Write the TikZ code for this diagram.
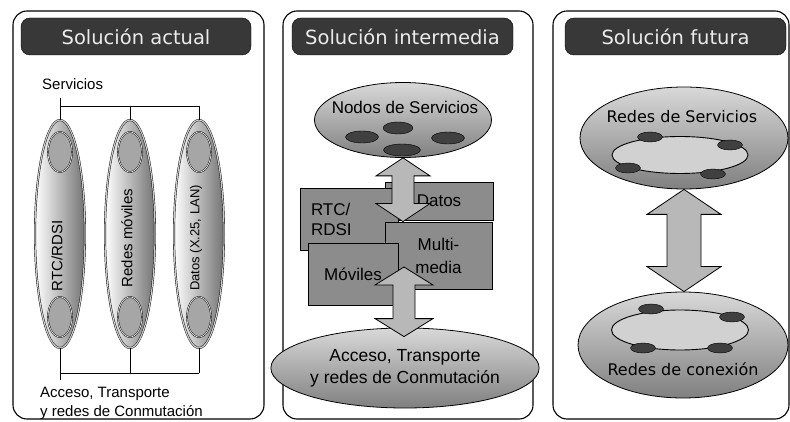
\documentclass[tikz,border=0pt]{standalone}
\usepackage{fontspec}
\setmainfont{Liberation Sans}
\newfontfamily\titlefont{DejaVu Sans}
\usepackage{tikz}
\usetikzlibrary{shapes.geometric, calc}
\tikzset{
  panelbox/.style={draw, line width=1.1pt, rounded corners=14pt},
  titlebar/.style={rectangle, draw, fill=black!78, rounded corners=9pt, text=white!92!black, minimum height=37pt, inner sep=0pt, font=\titlefont\fontsize{19.5}{22}\selectfont},
  pillar/.style={ellipse, draw, double=black!20, double distance=1.2pt, left color=white, right color=black!55, minimum width=50pt, minimum height=228pt, inner sep=0pt},
  pod/.style={ellipse, draw, double=black!15, double distance=0.8pt, fill=black!35, minimum width=24pt, minimum height=40pt, inner sep=0pt},
  vlabel/.style={rotate=90, inner sep=0pt},
  netbox/.style={rectangle, draw, line width=0.8pt, fill=black!45, inner sep=0pt, font=\fontsize{17}{20}\selectfont},
  cloud/.style={ellipse, draw, line width=0.8pt, top color=black!15, bottom color=black!50, inner sep=0pt},
  ring/.style={ellipse, draw, line width=0.9pt, fill=black!18, inner sep=0pt},
  blob/.style={ellipse, draw, fill=black!75, minimum width=32pt, minimum height=12pt, inner sep=0pt},
  blockarr/.style={draw, line width=0.8pt, fill=black!28},
  bus/.style={line width=0.9pt},
}
% #1 top end, #2 bottom end, #3 half shaft, #4 half head, #5 head length
\newcommand{\dblarrow}[5]{%
  \draw[blockarr] let \p1=(#1), \p2=(#2) in
    (\x1,\y1) -- (\x1+#4pt,\y1-#5pt) -- (\x1+#3pt,\y1-#5pt) -- (\x1+#3pt,\y2+#5pt)
    -- (\x1+#4pt,\y2+#5pt) -- (\x1,\y2) -- (\x1-#4pt,\y2+#5pt) -- (\x1-#3pt,\y2+#5pt)
    -- (\x1-#3pt,\y1-#5pt) -- (\x1-#4pt,\y1-#5pt) -- cycle;}

\begin{document}
\begin{tikzpicture}[x=1pt, y=-1pt]
  \useasboundingbox (0,0) rectangle (790,422);

  % Solucion actual
  \draw[panelbox] (13,11) rectangle (264,419);
  \node[titlebar, minimum width=230pt] (t1) at (136,36.5) {Solución actual};
  \node[anchor=west, inner sep=0pt, font=\fontsize{15}{18}\selectfont] (svc) at (42,84) {Servicios};

  \node[pillar] (rtc) at (60,234) {};
  \node[pillar] (mov) at (130,234) {};
  \node[pillar] (dat) at (199,234) {};
  \node[pod] (rtcA) at (60,152) {};
  \node[pod] (rtcB) at (60,317) {};
  \node[pod] (movA) at (130,152) {};
  \node[pod] (movB) at (130,317) {};
  \node[pod] (datA) at (199,152) {};
  \node[pod] (datB) at (199,317) {};
  \node[vlabel, font=\fontsize{15}{18}\selectfont] (rtcl) at (57,256) {RTC/RDSI};
  \node[vlabel, font=\fontsize{15}{18}\selectfont] (movl) at (127,238) {Redes móviles};
  \node[vlabel, font=\fontsize{13}{16}\selectfont] (datl) at (196,238) {Datos (X.25, LAN)};

  \coordinate (topbus) at (0,106);
  \coordinate (botbus) at (0,373);
  \coordinate (svcend) at (60,98);
  \coordinate (accend) at (60,380);
  \draw[bus] (svcend) -- (rtc.north);
  \draw[bus] (rtc.north |- topbus) -- (dat.north |- topbus);
  \draw[bus] (mov.north) -- (mov.north |- topbus);
  \draw[bus] (dat.north) -- (dat.north |- topbus);
  \draw[bus] (rtc.south) -- (accend);
  \draw[bus] (rtc.south |- botbus) -- (dat.south |- botbus);
  \draw[bus] (mov.south) -- (mov.south |- botbus);
  \draw[bus] (dat.south) -- (dat.south |- botbus);
  \node[anchor=west, align=left, inner sep=0pt, font=\fontsize{15}{19}\selectfont] (acc1) at (40,403) {Acceso, Transporte\\y redes de Conmutación};

  % Solucion intermedia
  \draw[panelbox] (283,11) rectangle (533,419);
  \node[titlebar, minimum width=221pt] (t2) at (402.5,36.5) {Solución intermedia};
  \node[cloud, minimum width=177pt, minimum height=75pt] (nodos) at (403,120) {};
  \node[font=\fontsize{17}{20}\selectfont, inner sep=0pt] (nodosl) at (405,107) {Nodos de Servicios};
  \node[blob, minimum width=30pt] (nb1) at (398,128) {};
  \node[blob, minimum width=33pt] (nb2) at (362,137) {};
  \node[blob, minimum width=33pt] (nb3) at (448,138) {};
  \node[blob, minimum width=37pt] (nb4) at (402,150) {};

  \node[netbox, minimum width=108pt, minimum height=38pt] (datos) at (439,201) {Datos};
  \node[netbox, minimum width=98pt, minimum height=62pt, text width=76pt, align=left] (rtc2) at (349,219) {RTC/\\RDSI};
  \node[netbox, minimum width=107pt, minimum height=67pt, align=center, font=\fontsize{17}{23}\selectfont] (multi) at (438.5,255.5) {Multi-\\media};
  \node[netbox, minimum width=90pt, minimum height=62pt] (moviles) at (353,274) {Móviles};

  \node[cloud, minimum width=210pt, minimum height=80pt, align=center, font=\fontsize{17.5}{22}\selectfont] (acceso) at (405,368) {Acceso, Transporte\\y redes de Conmutación};

  \coordinate (a2top) at (404,267);
  \dblarrow{nodos.south}{nodos.south |- multi.north}{11}{27}{18}
  \dblarrow{a2top}{$(acceso.north)+(0,9)$}{11}{29}{18}

  % Solucion futura
  \draw[panelbox] (553,11) rectangle (789,419);
  \node[titlebar, minimum width=221pt] (t3) at (675.5,36.5) {Solución futura};

  \node[cloud, minimum width=208pt, minimum height=102pt] (serv) at (684,138) {};
  \node[font=\titlefont\fontsize{16}{19}\selectfont, inner sep=0pt] (servl) at (682,117) {Redes de Servicios};
  \node[ring, minimum width=136pt, minimum height=37pt] (servr) at (680,155) {};
  \node[blob, minimum width=25pt, minimum height=10pt] (sb1) at (650,137) {};
  \node[blob, minimum width=25pt, minimum height=10pt] (sb2) at (730,145) {};
  \node[blob, minimum width=25pt, minimum height=10pt] (sb3) at (628,168) {};
  \node[blob, minimum width=25pt, minimum height=10pt] (sb4) at (713,174) {};

  \node[cloud, minimum width=210pt, minimum height=106pt] (conex) at (683,345) {};
  \node[ring, minimum width=137pt, minimum height=40pt] (conexr) at (680,330) {};
  \node[blob, minimum width=25pt, minimum height=10pt] (cb1) at (651,309) {};
  \node[blob, minimum width=25pt, minimum height=10pt] (cb2) at (732,317) {};
  \node[blob, minimum width=25pt, minimum height=10pt] (cb3) at (643,348) {};
  \node[blob, minimum width=25pt, minimum height=10pt] (cb4) at (720,348) {};
  \node[font=\titlefont\fontsize{16}{19}\selectfont, inner sep=0pt] (conexl) at (683,369) {Redes de conexión};

  \dblarrow{serv.south}{conex.north}{17}{37}{25}
\end{tikzpicture}
\end{document}
